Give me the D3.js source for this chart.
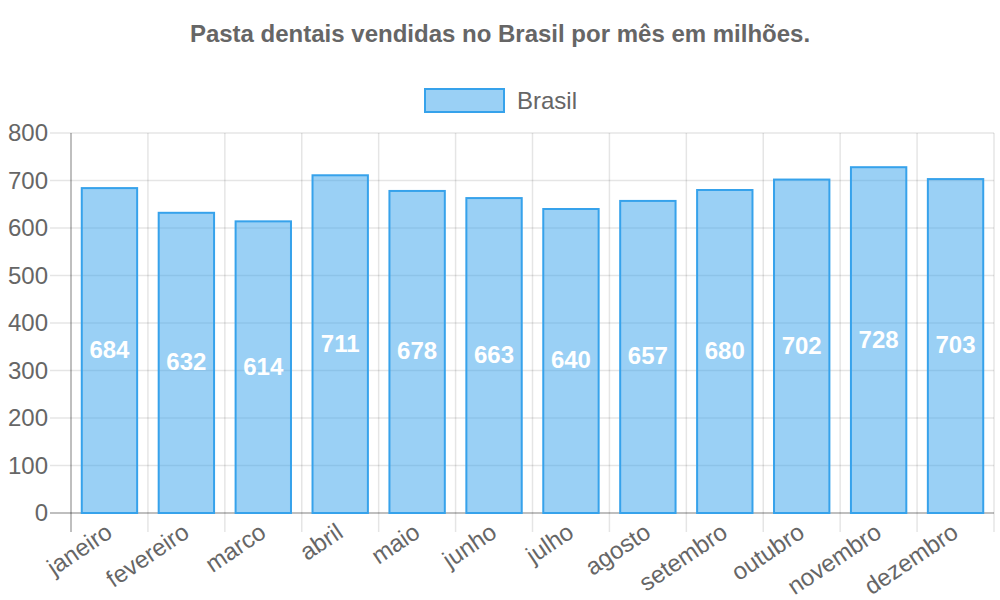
<!DOCTYPE html>
<html>
<head>
<meta charset="utf-8">
<script src="https://cdn.jsdelivr.net/npm/d3@7/dist/d3.min.js"></script>
<style>
  body { margin: 0; background: #fff; }
  svg text { font-family: "Liberation Sans", Arial, sans-serif; }
</style>
</head>
<body>
<div id="chart"></div>
<script>
const meses = ["janeiro","fevereiro","marco","abril","maio","junho","julho","agosto","setembro","outubro","novembro","dezembro"];
const vendas = [684,632,614,711,678,663,640,657,680,702,728,703];
const yTicks = [0,100,200,300,400,500,600,700,800];
const titulo = "Pasta dentais vendidas no Brasil por mês em milhões.";
const serie = "Brasil";

const W = 1000, H = 600;
const margin = {top: 133, right: 6, bottom: 87, left: 71};
const width = W - margin.left - margin.right;
const height = H - margin.top - margin.bottom;

const svg = d3.select("#chart").append("svg")
    .attr("width", W).attr("height", H);

// title
svg.append("text")
    .attr("x", W/2).attr("y", 42)
    .attr("text-anchor","middle")
    .attr("font-size", 24).attr("font-weight","bold")
    .attr("fill","#666")
    .text(titulo);

// legend
const leg = svg.append("g");
leg.append("rect")
    .attr("x", 425).attr("y", 89).attr("width", 79).attr("height", 23)
    .attr("fill","rgba(54,162,235,0.5)").attr("stroke","rgb(54,162,235)").attr("stroke-width",2);
leg.append("text")
    .attr("x", 517).attr("y", 109)
    .attr("font-size", 24).attr("fill","#666")
    .text(serie);

const g = svg.append("g")
    .attr("transform","translate(" + margin.left + "," + margin.top + ")");

const x = d3.scaleBand().domain(meses).range([0, width]);
const y = d3.scaleLinear().domain([0, 800]).range([height, 0]);

// horizontal grid + ticks
g.selectAll(".hgrid").data(yTicks).enter().append("line")
    .attr("x1", -21).attr("x2", width)
    .attr("y1", d => y(d)).attr("y2", d => y(d))
    .attr("stroke", d => d===0 ? "rgba(0,0,0,0.25)" : "rgba(0,0,0,0.1)")
    .attr("stroke-width", d => d===0 ? 2 : 1.5);

// vertical grid (category boundaries)
const bounds = meses.map(m => x(m)).concat([width]);
g.selectAll(".vgrid").data(bounds).enter().append("line")
    .attr("x1", d => d).attr("x2", d => d)
    .attr("y1", 0).attr("y2", height + 19)
    .attr("stroke", (d,i) => i===0 ? "rgba(0,0,0,0.25)" : "rgba(0,0,0,0.1)")
    .attr("stroke-width", (d,i) => i===0 ? 2 : 1.5);

// y labels
g.selectAll(".ylab").data(yTicks).enter().append("text")
    .attr("x", -23).attr("y", d => y(d))
    .attr("dy","0.35em")
    .attr("text-anchor","end")
    .attr("font-size", 24).attr("fill","#666")
    .text(d => d);

// bars
const bw = x.bandwidth() * 0.8 * 0.9;
g.selectAll(".bar").data(vendas).enter().append("rect")
    .attr("class","bar")
    .attr("x", (d,i) => x(meses[i]) + (x.bandwidth() - bw)/2)
    .attr("width", bw)
    .attr("y", d => y(d))
    .attr("height", d => height - y(d))
    .attr("fill","rgba(54,162,235,0.5)")
    .attr("stroke","rgb(54,162,235)")
    .attr("stroke-width",2);

// value labels
g.selectAll(".val").data(vendas).enter().append("text")
    .attr("x", (d,i) => x(meses[i]) + x.bandwidth()/2)
    .attr("y", d => (y(d) + height)/2 - 1)
    .attr("dy","0.35em")
    .attr("text-anchor","middle")
    .attr("font-size", 24).attr("font-weight","bold")
    .attr("fill","#fff")
    .text(d => d);

// x labels
g.selectAll(".xlab").data(meses).enter().append("text")
    .attr("transform", d => "translate(" + (x(d) + x.bandwidth()/2 - 5) + "," + (height + 9) + ") rotate(-34)")
    .attr("dy","0.7em")
    .attr("text-anchor","end")
    .attr("font-size", 24).attr("fill","#666")
    .text(d => d);
</script>
</body>
</html>
